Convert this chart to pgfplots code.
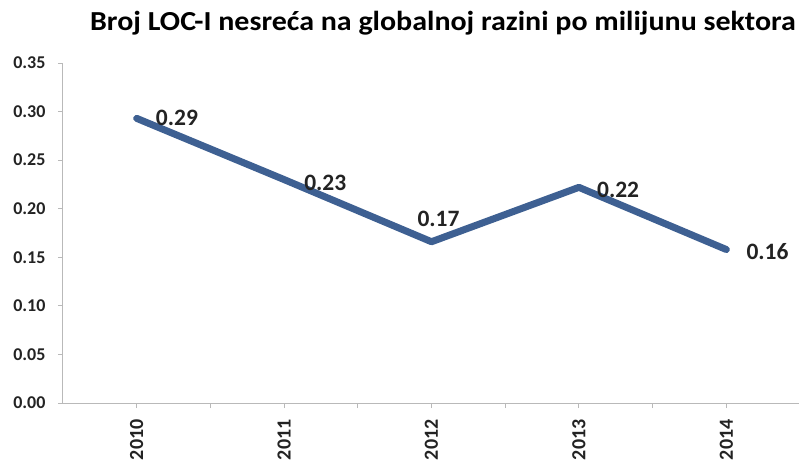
\documentclass[border=0pt]{standalone}
\usepackage{pgfplots}
\pgfplotsset{compat=1.18}
\usepackage{fontspec}
\setmainfont{Carlito}
\definecolor{linec}{RGB}{62,96,146}
\definecolor{axc}{RGB}{185,185,185}
\definecolor{txt}{RGB}{35,35,35}
\begin{document}
\begin{tikzpicture}[x=1pt,y=1pt]
\useasboundingbox (-63,-61) rectangle (736,403);
\begin{axis}[at={(0,0)}, anchor=south west, scale only axis,
  width=737pt, height=340pt,
  xmin=-0.5, xmax=4.5, ymin=0, ymax=0.35,
  axis lines*=left, axis line style={axc, line width=1pt},
  xtick={0,1,2,3,4}, xticklabels={2010,2011,2012,2013,2014},
  minor xtick={0.5,1.5,2.5,3.5,4.5},
  ytick={0,0.05,0.10,0.15,0.20,0.25,0.30,0.35},
  tick align=outside, major tick length=5pt, minor tick length=5pt,
  every tick/.style={axc, line width=1pt},
  every minor tick/.style={axc, line width=1pt},
  x tick label style={rotate=90, anchor=east, font=\fontsize{20}{22}\selectfont\bfseries, text=txt, xshift=-8pt},
  y tick label style={font=\fontsize{18}{20}\selectfont\bfseries, text=txt, xshift=-9pt},
  yticklabel style={/pgf/number format/.cd, fixed, fixed zerofill, precision=2, assume math mode=true},
  clip=false,
]
\addplot[linec, line width=7pt, line join=round, line cap=round] coordinates {
  (0,0.293) (1,0.230) (2,0.166) (3,0.222) (4,0.158)
};
\begin{scope}[every node/.style={font=\fontsize{23.5}{26}\selectfont\bfseries, text=txt, inner sep=0pt, anchor=west}]
\node[xshift=19pt] at (axis cs:0,0.293) {0.29};
\node[xshift=20pt, yshift=-3pt] at (axis cs:1,0.230) {0.23};
\node[anchor=center, xshift=7pt, yshift=23pt] at (axis cs:2,0.166) {0.17};
\node[xshift=18pt, yshift=-3pt] at (axis cs:3,0.222) {0.22};
\node[xshift=20pt, yshift=-2.5pt] at (axis cs:4,0.158) {0.16};
\end{scope}
\end{axis}
\node[font=\fontsize{27.5}{30}\selectfont\bfseries, text=black, anchor=base, inner sep=0pt] at (380,372) {\scalebox{1.09}[1]{Broj LOC-I nesreća na globalnoj razini po milijunu sektora}};
\end{tikzpicture}
\end{document}
